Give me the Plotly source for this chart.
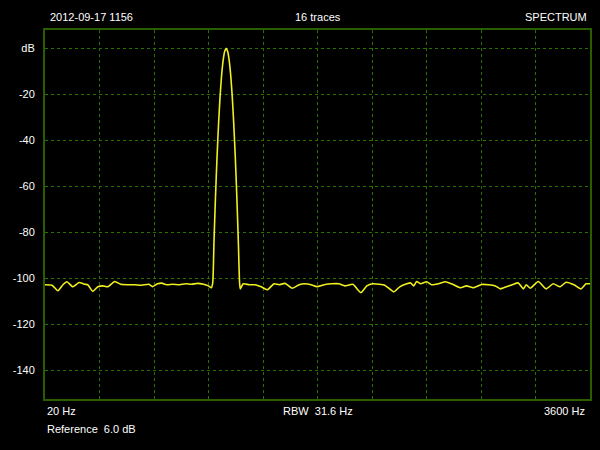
import plotly.graph_objects as go

# Frequency (Hz) and level (dB)
freq_hz = [20, 66, 105, 138, 164, 203, 243, 282, 301, 334, 367, 400, 432, 478, 517,
           563, 609, 655, 701, 727, 760, 786, 819, 858, 904, 943, 982, 1021, 1061, 1093,
           1113, 1122, 1130, 1140, 1150, 1160, 1170, 1180, 1190, 1200, 1210, 1220, 1230,
           1240, 1250, 1260, 1270, 1280, 1290, 1298, 1303,
           1322, 1362, 1401, 1440, 1480, 1525, 1558, 1597, 1643, 1689, 1728, 1768, 1807,
           1853, 1905, 1951, 1990, 2042, 2095, 2134, 2173, 2213, 2252, 2311, 2350, 2396,
           2422, 2442, 2461, 2488, 2527, 2560, 2605, 2651, 2704, 2749, 2789, 2834, 2887,
           2933, 2978, 3011, 3050, 3090, 3129, 3162, 3181, 3207, 3260, 3312, 3358, 3404,
           3443, 3495, 3541, 3574, 3600]
level_db = [-102.8, -103.0, -105.4, -102.8, -101.5, -103.7, -101.8, -102.6, -102.8, -105.7,
            -103.7, -103.3, -103.7, -101.4, -102.6, -102.8, -102.8, -103.0, -102.6, -103.6,
            -102.4, -102.1, -102.8, -102.6, -102.8, -102.4, -102.6, -102.2, -102.6, -103.3,
            -104.1, -101.8, -84.1, -64.4, -47.3, -32.9, -21.0, -11.8, -5.3, -1.3, 0.0, -1.3,
            -5.3, -11.8, -21.0, -32.9, -47.3, -64.4, -84.1, -101.8, -104.6,
            -102.4, -102.8, -102.8, -103.7, -105.0, -102.4, -102.8, -102.2, -104.3, -102.8,
            -102.4, -102.8, -103.6, -102.8, -102.4, -102.4, -103.3, -102.6, -106.2, -103.3,
            -102.4, -102.6, -103.0, -105.9, -103.7, -102.4, -102.0, -103.3, -101.4, -102.4,
            -101.5, -102.8, -102.4, -101.5, -102.8, -104.1, -103.3, -104.1, -102.7, -102.8,
            -103.3, -104.6, -103.7, -102.8, -102.0, -104.6, -102.8, -104.3, -101.4, -104.6,
            -102.4, -103.7, -101.7, -102.8, -104.6, -102.4, -102.4]

y_tick_vals = [0, -20, -40, -60, -80, -100, -120, -140]
y_tick_text = ["dB", "-20", "-40", "-60", "-80", "-100", "-120", "-140"]

FONT = "Liberation Sans, Arial, Helvetica, sans-serif"
GRID = "#2a7000"
BORDER = "#285e00"

fig = go.Figure()
fig.add_trace(go.Scatter(
    x=freq_hz, y=level_db, mode="lines",
    line=dict(color="#f0f020", width=1.6, shape="spline", smoothing=0.5),
    hoverinfo="skip", showlegend=False,
))

fig.update_layout(
    width=600, height=450,
    paper_bgcolor="black", plot_bgcolor="black",
    margin=dict(l=45, r=8, t=30, b=51),
    font=dict(family=FONT, size=11, color="white"),
    xaxis=dict(
        range=[20, 3600], tick0=20, dtick=358, showticklabels=False,
        showgrid=True, gridcolor=GRID, griddash="3px,3px", gridwidth=1,
        showline=True, mirror=True, linecolor=BORDER, linewidth=2,
        zeroline=False, ticks="",
    ),
    yaxis=dict(
        range=[-152.5, 8], tickvals=y_tick_vals, ticktext=y_tick_text,
        showgrid=True, gridcolor=GRID, griddash="3px,3px", gridwidth=1,
        showline=True, mirror=True, linecolor=BORDER, linewidth=2,
        zeroline=False, ticks="outside", ticklen=6, tickcolor="rgba(0,0,0,0)",
        tickfont=dict(family=FONT, size=11, color="white"),
    ),
)

annotations = [
    dict(text="2012-09-17 1156", x=0.005, y=1.0, xanchor="left", yanchor="bottom", yshift=5),
    dict(text="16 traces", x=0.5, y=1.0, xanchor="center", yanchor="bottom", yshift=5),
    dict(text="SPECTRUM", x=1.0, y=1.0, xanchor="right", yanchor="bottom", yshift=5, xshift=-1),
    dict(text="20 Hz", x=0.0, y=0.0, xanchor="left", yanchor="top", yshift=-4),
    dict(text="RBW\u00a0\u00a031.6 Hz", x=0.5, y=0.0, xanchor="center", yanchor="top", yshift=-4),
    dict(text="3600 Hz", x=1.0, y=0.0, xanchor="right", yanchor="top", yshift=-4, xshift=-3),
    dict(text="Reference\u00a0\u00a06.0 dB", x=0.0, y=0.0, xanchor="left", yanchor="top", yshift=-22),
]
for a in annotations:
    a.update(xref="paper", yref="paper", showarrow=False,
             font=dict(family=FONT, size=11, color="white"))
fig.update_layout(annotations=annotations)

fig.write_html("out.html",
               config={"displayModeBar": False, "staticPlot": True},
               post_script="document.body.style.margin='0';document.body.style.background='black';")
